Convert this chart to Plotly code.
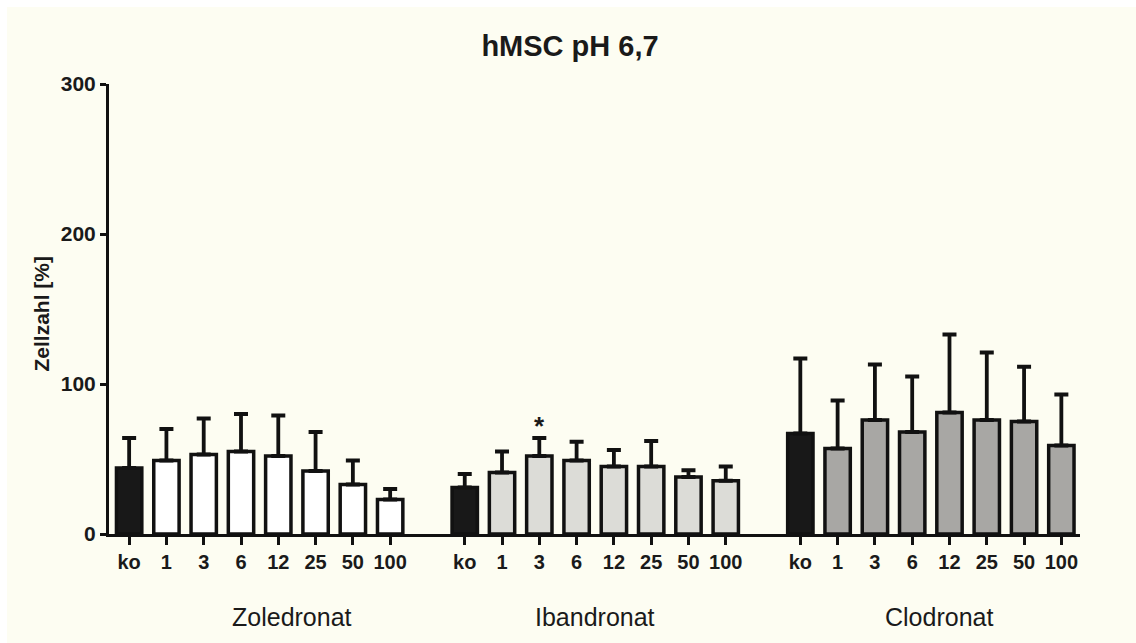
import plotly.graph_objects as go

# ---- data ----
tick_labels = ["ko", "1", "3", "6", "12", "25", "50", "100"]
groups = ["Zoledronat", "Ibandronat", "Clodronat"]

zol_mean = [44, 49, 53, 55, 52, 42, 33, 23]
zol_err = [20, 21, 24, 25, 27, 26, 16, 7]

iba_mean = [31, 41, 52, 49, 45, 45, 38, 35.5]
iba_err = [9, 14, 12, 12.5, 11, 17, 4.5, 9.5]

clo_mean = [67, 57, 76, 68, 81, 76, 75, 59]
clo_err = [50, 32, 37, 37, 52, 45, 36.5, 34]

fill_colors = ["#ffffff", "#dcdcd7", "#a8a7a4"]
ko_color = "#181818"

means = [zol_mean, iba_mean, clo_mean]
errs = [zol_err, iba_err, clo_err]

fig = go.Figure()

xvals_all = []
xtext_all = []
for gi in range(3):
    xs = [gi * 9 + i for i in range(len(tick_labels))]
    xvals_all += xs
    xtext_all += tick_labels
    colors = [ko_color] + [fill_colors[gi]] * (len(tick_labels) - 1)
    fig.add_trace(go.Bar(
        x=xs, y=means[gi], width=0.68,
        marker=dict(color=colors, line=dict(color="#111111", width=3.5)),
        error_y=dict(type="data", symmetric=False, array=errs[gi],
                     arrayminus=[0] * len(errs[gi]),
                     color="#111111", thickness=3.8, width=7),
        showlegend=False,
    ))

bg = "#fdfdf2"
FAM = "Liberation Sans, Arial, sans-serif"

L, R, T, B = 109, 56, 84, 109
W, H = 1136, 643
pw = W - L - R
ph = H - T - B

# group labels
group_pos = [4.38, 12.48, 21.72]
annotations = []
for g, p in zip(groups, group_pos):
    annotations.append(dict(x=p, xref="x", y=-0.185, yref="paper", text=g,
                            showarrow=False, font=dict(size=25, color="#1a1a1a", family=FAM),
                            xanchor="center", yanchor="middle"))
# significance star
annotations.append(dict(x=11, xref="x", y=iba_mean[2] + iba_err[2] + 8, yref="y",
                        text="<b>*</b>", showarrow=False,
                        font=dict(size=26, color="#1a1a1a", family=FAM),
                        xanchor="center", yanchor="middle"))
# y-axis title
annotations.append(dict(x=(41 - L) / pw, xref="paper", y=0.49, yref="paper",
                        text="<b>Zellzahl [%]</b>", showarrow=False, textangle=-90,
                        font=dict(size=21, color="#1a1a1a", family=FAM),
                        xanchor="center", yanchor="middle"))

shapes = [
    dict(type="rect", xref="paper", yref="paper",
         x0=(0 - L) / pw, x1=(7 - L) / pw, y0=(H - B - H) / ph, y1=(H - B) / ph,
         fillcolor="#ffffff", line=dict(width=0), layer="below"),
    dict(type="rect", xref="paper", yref="paper",
         x0=(0 - L) / pw, x1=(W - L) / pw, y0=(H - B - 7) / ph, y1=(H - B) / ph,
         fillcolor="#ffffff", line=dict(width=0), layer="below"),
]

fig.update_layout(
    width=W, height=H,
    margin=dict(l=L, r=R, t=T, b=B),
    paper_bgcolor=bg, plot_bgcolor=bg,
    barmode="overlay",
    font=dict(family=FAM, color="#1a1a1a"),
    title=dict(text="<b>hMSC pH 6,7</b>", x=570 / W, xanchor="center",
               y=1 - 46 / H, yanchor="middle",
               font=dict(size=29, color="#1a1a1a")),
    xaxis=dict(range=[-0.54, 25.5], tickvals=xvals_all, ticktext=xtext_all,
               showgrid=False, zeroline=False, showline=True, linecolor="#111111",
               linewidth=3, ticks="outside", ticklen=8, tickwidth=3, tickcolor="#111111",
               tickfont=dict(size=20, color="#1a1a1a", family=FAM, weight="bold")),
    yaxis=dict(range=[0, 300], tickvals=[0, 100, 200, 300],
               showgrid=False, zeroline=False, showline=True, linecolor="#111111",
               linewidth=3, ticks="outside", ticklen=6, tickwidth=3, tickcolor="#111111",
               tickfont=dict(size=21, color="#1a1a1a", family=FAM, weight="bold")),
    annotations=annotations,
    shapes=shapes,
)

fig.write_html("out.html")
